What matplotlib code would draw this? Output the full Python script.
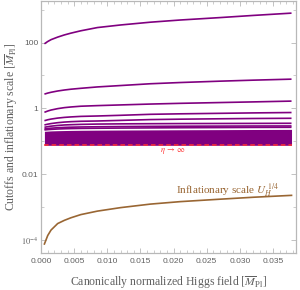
import numpy as np
import matplotlib
matplotlib.use("Agg")
import matplotlib.pyplot as plt
from matplotlib.ticker import FixedLocator, NullFormatter

plt.rcParams['mathtext.fontset'] = 'stix'

# x sample points (canonically normalized Higgs field)
x_pts = [0.0005, 0.001, 0.0015, 0.0025, 0.0035, 0.0045, 0.006,
         0.0085, 0.012, 0.0165, 0.021, 0.027, 0.032, 0.0378]

# cutoff curves for finite eta
cut_1 = [92, 108, 123, 147, 171, 194, 229, 287, 344, 418, 487, 577, 671, 789]
cut_2 = [2.71, 2.91, 3.08, 3.37, 3.61, 3.82, 4.07, 4.48, 4.94, 5.6, 6.1, 6.71, 7.2, 7.73]
cut_3 = [0.757, 0.828, 0.888, 0.979, 1.05, 1.10, 1.16, 1.21, 1.27, 1.35, 1.42, 1.50, 1.57, 1.66]
cut_4 = [0.421, 0.449, 0.471, 0.505, 0.530, 0.548, 0.569, 0.585, 0.614, 0.658, 0.681, 0.705, 0.726, 0.746]
cut_5 = [0.312, 0.330, 0.344, 0.366, 0.382, 0.393, 0.404, 0.412, 0.430, 0.455, 0.468, 0.481, 0.491, 0.498]
cut_6 = [0.265, 0.277, 0.287, 0.301, 0.312, 0.318, 0.325, 0.332, 0.337, 0.341, 0.344, 0.346, 0.348, 0.351]
cut_7 = [0.236, 0.243, 0.249, 0.257, 0.263, 0.267, 0.271, 0.275, 0.279, 0.283, 0.286, 0.288, 0.290, 0.291]
cut_8 = [0.220, 0.225, 0.229, 0.235, 0.239, 0.242, 0.245, 0.248, 0.251, 0.254, 0.257, 0.260, 0.263, 0.265]
cutoffs = [cut_1, cut_2, cut_3, cut_4, cut_5, cut_6, cut_7, cut_8]

# dense bunch of curves near the eta -> infinity limit
band_top = [0.200, 0.203, 0.206, 0.209, 0.211, 0.213, 0.215, 0.217, 0.219, 0.221, 0.223, 0.225, 0.227, 0.229]
eta_inf = [0.075] * len(x_pts)

# inflationary scale U_H^(1/4)
u_inf = [7.46e-5, 1.35e-4, 1.98e-4, 3.12e-4, 3.90e-4, 4.68e-4, 5.85e-4,
         7.46e-4, 9.53e-4, 1.22e-3, 1.45e-3, 1.72e-3, 1.97e-3, 2.25e-3]

xticks = [0.000, 0.005, 0.010, 0.015, 0.020, 0.025, 0.030, 0.035]
xticklabels = ["0.000", "0.005", "0.010", "0.015", "0.020", "0.025", "0.030", "0.035"]
yticks = [100, 1, 0.01, 1e-4]
yticklabels = ["100", "1", "0.01", r"$10^{-4}$"]

purple = "#800080"
brown = "#996633"
red = "#ff3333"
gray = "#606060"
frame = "#b8b8b8"

fig = plt.figure(figsize=(3.0, 2.9), dpi=100)
ax = fig.add_axes([0.137, 0.128, 0.848, 0.870])

ax.fill_between(x_pts, eta_inf, band_top, color=purple, lw=0)
for c in cutoffs:
    ax.plot(x_pts, c, color=purple, lw=1.2, solid_capstyle='butt')
ax.plot(x_pts, eta_inf, color=red, lw=1.1, dashes=(3, 2))
ax.plot(x_pts, u_inf, color=brown, lw=1.2)

ax.set_yscale('log')
ax.set_xlim(0.0, 0.0384)
ax.set_ylim(4e-5, 1.9e3)

ax.text(0.0198, 0.051, r"$\eta\,\rightarrow\,\infty$", color=red, fontsize=6,
        ha='center', va='center')
ax.text(0.0282, 2.5e-3, r"Inflationary scale $U_H^{\ 1/4}$", color=brown,
        fontsize=8, family='Liberation Serif', ha='center', va='baseline')

ax.set_xticks(xticks)
ax.set_xticklabels(xticklabels)
ax.xaxis.set_minor_locator(FixedLocator(np.arange(0, 0.0384, 0.001)))
ax.set_yticks(yticks)
ax.set_yticklabels(yticklabels)
ax.yaxis.set_minor_locator(FixedLocator([1e-3, 0.1, 10, 1000]))
ax.yaxis.set_minor_formatter(NullFormatter())

ax.tick_params(which='both', direction='in', top=True, right=True,
               color=frame, labelcolor=gray, labelsize=6, pad=2)
ax.tick_params(axis='x', which='both', pad=4)
for lab in ax.get_xticklabels() + ax.get_yticklabels():
    lab.set_family('Liberation Sans')
ax.tick_params(which='major', length=3.5, width=0.6)
ax.tick_params(which='minor', length=2, width=0.5)
for s in ax.spines.values():
    s.set_color(frame)
    s.set_linewidth(0.9)

ax.set_xlabel(r"Canonically normalized Higgs field $[\overline{M}_{\rm Pl}]$",
              family='Liberation Serif', fontsize=8.5, color=gray, labelpad=6)
ax.set_ylabel(r"Cutoffs and inflationary scale $[\overline{M}_{\rm Pl}]$",
              family='Liberation Serif', fontsize=8.5, color=gray, labelpad=1)

fig.savefig("out.png", dpi=100)
